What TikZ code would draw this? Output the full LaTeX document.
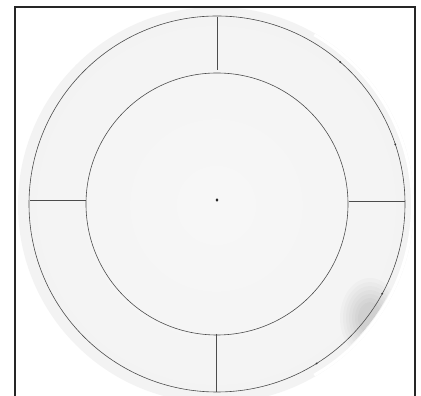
\documentclass[tikz,border=0pt]{standalone}
\usetikzlibrary{calc}
\pgfdeclareradialshading{paper}{\pgfpoint{0bp}{0bp}}{
  color(0bp)=(black!3); color(30bp)=(black!5); color(46bp)=(black!8); color(50bp)=(black!10)}
\begin{document}
\begin{tikzpicture}[x=1pt,y=1pt,
  pen/.style={draw=black!70,line width=0.6pt},
  frameline/.style={draw=black!85,line width=2pt}]
\useasboundingbox (0,0) rectangle (421,396);
\clip (0,0) rectangle (421,396);
\fill[white] (0,0) rectangle (421,396);
% paper disk
\coordinate (P) at (216,191);
\shade[shading=paper] (P) circle[radius=198];
% bright rim on right side
\draw[white,line width=3pt] ($(P)+(-60:196.5)$) arc[start angle=-60,end angle=60,radius=196.5];
% shadow bottom right (soft, built from stacked translucent ellipses)
\begin{scope}
\clip (P) circle[radius=194];
\foreach \s in {1.0,0.9,0.8,0.7,0.6,0.5,0.4}{
  \fill[black,opacity=0.018] (370,78) ellipse[x radius=30*\s,y radius=40*\s];
}
\end{scope}
% drawn circles
\coordinate (O) at (217,192);
\draw[pen] (O) circle[radius=188];
\draw[pen] (O) circle[radius=131];
% spokes
\coordinate (T1) at (217,379); \coordinate (T2) at (217,326);
\coordinate (L1) at (30,196);  \coordinate (L2) at (86,196);
\coordinate (R1) at (349,195); \coordinate (R2) at (405,195);
\coordinate (B1) at (216,62);  \coordinate (B2) at (216,4);
\draw[pen] (T1) -- (T2);
\draw[pen] (L1) -- (L2);
\draw[pen] (R1) -- (R2);
\draw[pen] (B1) -- (B2);
% center dot
\fill[black!85] (217,196) ellipse[x radius=1.4,y radius=1.8];
% small marks on outer circle
\foreach \a in {49,18.5,-28.5,-58}{
  \fill[black!80] ($(O)+(\a:188)$) circle[radius=1];
}
% frame
\draw[frameline] (14.5,0) -- (14.5,389) -- (414.5,389) -- (414.5,0);
\end{tikzpicture}
\end{document}
